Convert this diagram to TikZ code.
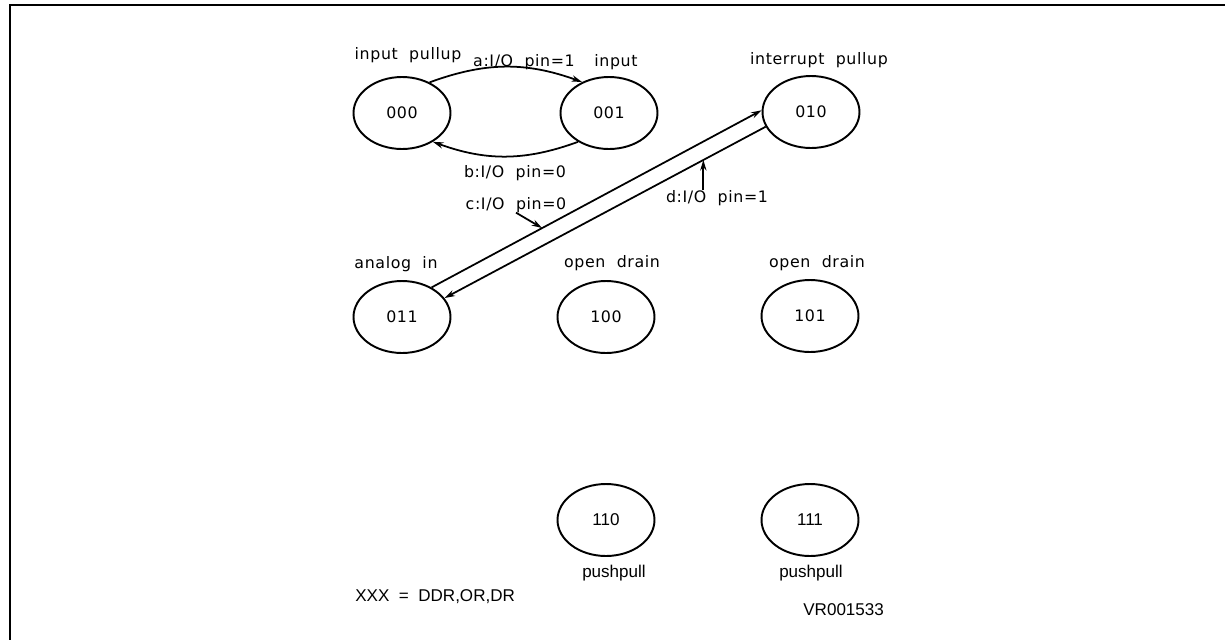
\documentclass[tikz,border=0pt]{standalone}
\usepackage{fontspec}
\setmainfont{Liberation Sans}
\newfontfamily\plotfont[LetterSpace=4]{DejaVu Sans}
\usetikzlibrary{shapes.geometric,arrows.meta}
\begin{document}
\begin{tikzpicture}[x=0.02cm,y=-0.02cm,
  state/.style={ellipse,draw,line width=1.1pt,minimum width=1.94cm,minimum height=1.44cm,inner sep=0pt},
  ptxt/.style={font=\plotfont\fontsize{9}{10.8}\selectfont,inner sep=0pt},
  htxt/.style={font=\fontsize{9.7}{11.5}\selectfont,inner sep=0pt},
  arr/.style={line width=1pt,-{Stealth[length=6pt,width=3.6pt]}},
  frameline/.style={line width=1.7pt}]
\useasboundingbox (0,0) rectangle (1225,640);
% frame
\draw[frameline] (1225,5) -- (10,5) -- (10,640);
% states
\node[state,ptxt] (s000) at (402,113) {000};
\node[state,ptxt] (s001) at (609,113) {001};
\node[state,ptxt] (s010) at (811,112) {010};
\node[state,ptxt] (s011) at (402,317) {011};
\node[state,ptxt] (s100) at (606,317) {100};
\node[state,ptxt] (s101) at (810,316) {101};
\node[state,htxt] (s110) at (606,520) {110};
\node[state,htxt] (s111) at (810,520) {111};
% state labels
\node[ptxt,anchor=base] (l000) at (408,59) {input\ \ pullup};
\node[ptxt,anchor=base] (l001) at (616,66) {input};
\node[ptxt,anchor=base] (l010) at (819,64) {interrupt\ \ pullup};
\node[ptxt,anchor=base] (l011) at (396,268) {analog\ \ in};
\node[ptxt,anchor=base] (l100) at (612,267) {open\ \ drain};
\node[ptxt,anchor=base] (l101) at (817,267) {open\ \ drain};
\node[htxt,anchor=base] (l110) at (614,577) {pushpull};
\node[htxt,anchor=base] (l111) at (811,577) {pushpull};
% transition labels
\node[ptxt,anchor=base] (la) at (524,66) {a:I/O\ \ pin=1};
\node[ptxt,anchor=base] (lb) at (515,177) {b:I/O\ \ pin=0};
\node[ptxt,anchor=base] (lc) at (516,209) {c:I/O\ \ pin=0};
\node[ptxt,anchor=base] (ld) at (717,202) {d:I/O\ \ pin=1};
% notes
\node[htxt,anchor=base west] (note) at (355,601) {XXX\ \ =\ \ DDR,OR,DR};
\node[htxt,anchor=base west] (ref) at (803,615) {VR001533};
% transitions
\draw[arr] (s000.48) to[bend left=20] (s001.131);
\draw[arr] (s001.223) to[bend left=20] (s000.317);
\draw[arr] (s011.45) -- coordinate[pos=0.335] (cp) (s010.178);
\draw[arr] (s010.198) -- coordinate[pos=0.194] (dp) (s011.24);
% label pointers
\draw[arr] (lc.south) -- (cp);
\draw[arr] (ld.north -| dp) -- (dp);
\end{tikzpicture}
\end{document}
